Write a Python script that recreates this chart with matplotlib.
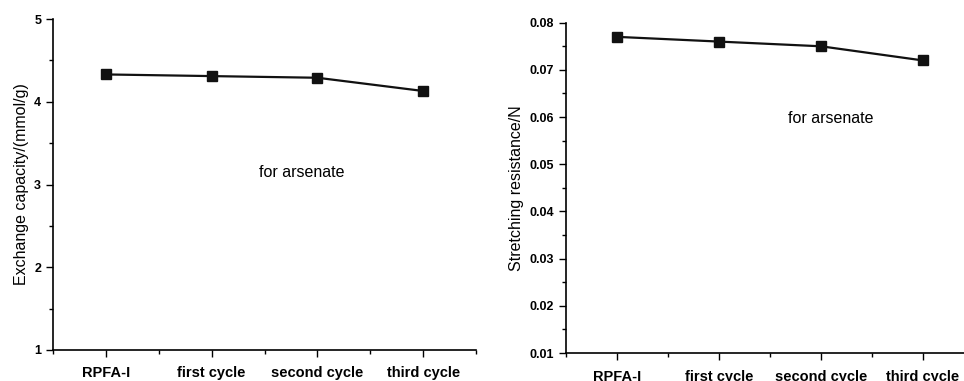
import matplotlib.pyplot as plt
from matplotlib.ticker import MultipleLocator

plt.rcParams['font.family'] = ['Liberation Sans', 'DejaVu Sans']

# data
cycles = ['RPFA-I', 'first cycle', 'second cycle', 'third cycle']
capacity = [4.33, 4.31, 4.29, 4.13]
resistance = [0.077, 0.076, 0.075, 0.072]

fig = plt.figure(figsize=(9.64, 3.81), dpi=100)
ax1 = fig.add_axes([53 / 964, 31 / 381, 423 / 964, 331 / 381])
ax2 = fig.add_axes([566 / 964, 28 / 381, 408 / 964, 330.3 / 381])

x = list(range(len(cycles)))


def style(ax, pad):
    ax.spines['top'].set_visible(False)
    ax.spines['right'].set_visible(False)
    ax.set_xlim(-0.5, 3.5)
    ax.set_xticks(x)
    ax.set_xticklabels(cycles, fontsize=10.5, fontweight='bold')
    ax.xaxis.set_minor_locator(MultipleLocator(0.5))
    ax.tick_params(which='major', length=5, width=1, direction='out')
    ax.tick_params(which='minor', length=3, width=1, direction='out')
    ax.tick_params(axis='x', pad=pad)
    ax.tick_params(axis='y', labelsize=9)
    for lab in ax.get_yticklabels():
        lab.set_fontweight('bold')
    for s in ['left', 'bottom']:
        ax.spines[s].set_linewidth(1.2)


# left panel
ax1.plot(x, capacity, color='#111111', lw=1.6, marker='s', ms=6.5)
ax1.set_ylim(1, 5)
ax1.yaxis.set_major_locator(MultipleLocator(1))
ax1.yaxis.set_minor_locator(MultipleLocator(0.5))
style(ax1, 6.5)
ax1.set_ylabel('Exchange capacity/(mmol/g)', fontsize=11.5)
ax1.text(1.85, 3.14, 'for arsenate', fontsize=11.5, ha='center', va='center')

# right panel
ax2.plot(x, resistance, color='#111111', lw=1.6, marker='s', ms=6.5)
ax2.set_ylim(0.01, 0.08)
ax2.yaxis.set_major_locator(MultipleLocator(0.01))
ax2.yaxis.set_minor_locator(MultipleLocator(0.005))
style(ax2, 7)
ax2.set_ylabel('Stretching resistance/N', fontsize=11.5)
ax2.text(2.1, 0.0598, 'for arsenate', fontsize=11.5, ha='center', va='center')

fig.savefig('out.png', dpi=100)
